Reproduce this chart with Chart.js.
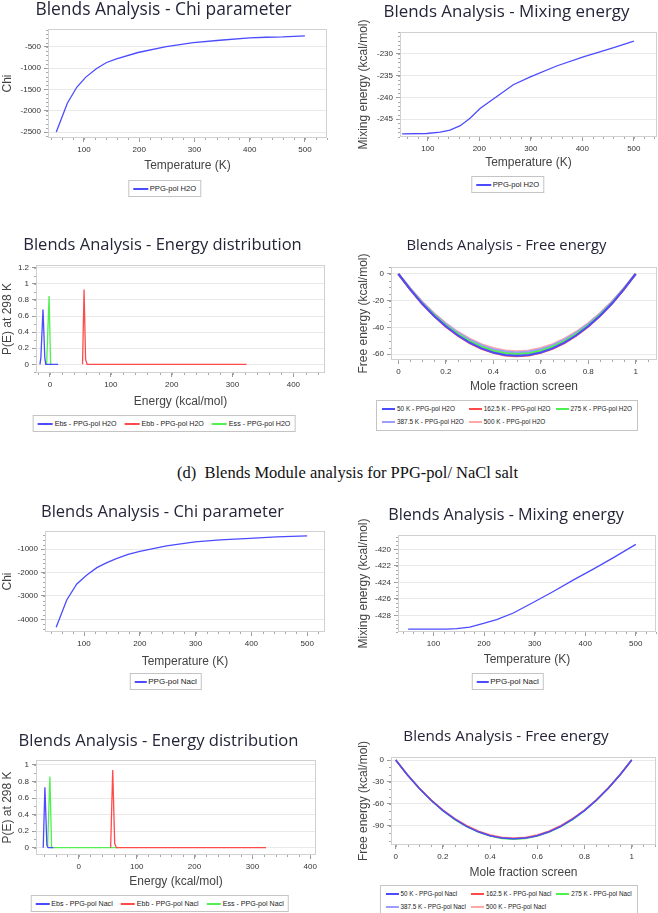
<!DOCTYPE html>
<html><head><meta charset="utf-8">
<script src="https://cdn.jsdelivr.net/npm/chart.js@4.4.0/dist/chart.umd.min.js"></script>
<style>
html,body{margin:0;padding:0;background:#fff;}
#wrap{position:relative;width:658px;height:913px;overflow:hidden;background:#fff;}
canvas{position:absolute;}
.lg{position:absolute;border:1px solid #c4c4c4;background:#fff;padding:2px 4px;font-family:"Liberation Sans",Arial,sans-serif;color:#222;white-space:nowrap;line-height:10px;transform:translateX(-50%);}
.lg .it{display:inline-flex;align-items:center;margin-right:8px;}
.lg .it:last-child{margin-right:0}
.lg .sw{display:inline-block;height:2px;margin-right:2px;}
.lg.grid{display:grid;grid-template-columns:auto auto auto;column-gap:5px;row-gap:3px;padding:3px 5px;}
.lg.grid .it{margin-right:0}
.cap{position:absolute;font:16.5px "Liberation Serif","Times New Roman",serif;color:#111;white-space:pre;line-height:18px;}
</style></head><body><div id="wrap"></div><script>
// ---------------- DATA ----------------
// (a) Chi parameter, PPG-pol / H2O
const chiH2O_T   = [50, 70, 87, 103, 123, 141, 159, 198, 249, 298, 346, 400, 430, 460, 500];
const chiH2O     = [-2500, -1823, -1449, -1216, -1006, -866, -780, -632, -492, -399, -344, -290, -274, -266, -243];
// (b) Mixing energy, PPG-pol / H2O
const mixH2O_T   = [50, 98, 124, 143, 163, 182, 202, 234, 266, 299, 350, 402, 461, 500];
const mixH2O     = [-248.4, -248.3, -248.0, -247.5, -246.5, -244.8, -242.5, -239.8, -237.1, -235.3, -232.8, -230.7, -228.6, -227.1];
// (c) Energy distribution, PPG-pol / H2O
const ebsH2O_E   = [-16.5, -15, -11.5, -8.5, -7, 13.5];
const ebsH2O_P   = [0, 0.08, 0.68, 0.08, 0, 0];
const ebbH2O_E   = [53.5, 56, 58.5, 61, 323];
const ebbH2O_P   = [0, 0.93, 0.06, 0, 0];
const essH2O_E   = [-5.5, -1.5, 1, 4];
const essH2O_P   = [0, 0.85, 0, 0];
// (d) Free energy, PPG-pol / H2O
const moleFrac   = [0, 0.05, 0.1, 0.15, 0.2, 0.25, 0.3, 0.35, 0.4, 0.45, 0.5, 0.55, 0.6, 0.65, 0.7, 0.75, 0.8, 0.85, 0.9, 0.95, 1];
const fe50H2O    = [0, -11.6, -22.1, -31.2, -39.1, -45.8, -51.3, -55.6, -58.7, -60.5, -61.1, -60.5, -58.7, -55.6, -51.3, -45.8, -39.1, -31.2, -22.1, -11.6, 0];
const fe162H2O   = [0, -11.7, -22.3, -31.5, -39.4, -46.1, -51.6, -55.9, -59.0, -60.9, -61.5, -60.9, -59.0, -55.9, -51.6, -46.1, -39.4, -31.5, -22.3, -11.7, 0];
const fe275H2O   = [0, -11.3, -21.6, -30.5, -38.3, -44.8, -50.2, -54.4, -57.4, -59.2, -59.8, -59.2, -57.4, -54.4, -50.2, -44.8, -38.3, -30.5, -21.6, -11.3, 0];
const fe387H2O   = [0, -11.1, -21.2, -30.0, -37.6, -44.0, -49.3, -53.4, -56.4, -58.2, -58.8, -58.2, -56.4, -53.4, -49.3, -44.0, -37.6, -30.0, -21.2, -11.1, 0];
const fe500H2O   = [0, -10.9, -20.9, -29.5, -37.0, -43.3, -48.5, -52.6, -55.5, -57.3, -57.9, -57.3, -55.5, -52.6, -48.5, -43.3, -37.0, -29.5, -20.9, -10.9, 0];
// (e) Chi parameter, PPG-pol / NaCl
const chiNaCl_T  = [50, 69, 87, 105, 123, 141, 158, 179, 200, 248, 299, 344, 397, 445, 500];
const chiNaCl    = [-4343, -3171, -2486, -2100, -1786, -1571, -1400, -1214, -1086, -857, -686, -600, -529, -471, -429];
// (f) Mixing energy, PPG-pol / NaCl
const mixNaCl_T  = [50, 93, 126, 146, 172, 199, 225, 258, 298, 337, 377, 416, 456, 500];
const mixNaCl    = [-429.66, -429.66, -429.66, -429.6, -429.4, -428.97, -428.5, -427.7, -426.4, -425.1, -423.7, -422.4, -421.0, -419.4];
// (g) Energy distribution, PPG-pol / NaCl
const ebsNaCl_E  = [-61.5, -58.6, -55.2, -53, -44];
const ebsNaCl_P  = [0, 0.73, 0.03, 0, 0];
const ebbNaCl_E  = [55, 58.6, 62, 65, 323.5];
const ebbNaCl_P  = [0, 0.94, 0.05, 0, 0];
const essNaCl_E  = [-54, -50, -47, 68];
const essNaCl_P  = [0, 0.86, 0, 0];
// (h) Free energy, PPG-pol / NaCl
const fe50NaCl   = [0, -20.5, -38.8, -55.0, -69.0, -80.8, -90.5, -98.0, -103.4, -106.6, -107.6, -106.6, -103.4, -98.0, -90.5, -80.8, -69.0, -55.0, -38.8, -20.5, 0];
const fe162NaCl  = [0, -20.4, -38.6, -54.7, -68.6, -80.4, -90.0, -97.5, -102.9, -106.1, -107.1, -106.1, -102.9, -97.5, -90.0, -80.4, -68.6, -54.7, -38.6, -20.4, 0];
const fe275NaCl  = [0, -20.6, -39.0, -55.2, -69.3, -81.2, -90.9, -98.5, -103.9, -107.1, -108.2, -107.1, -103.9, -98.5, -90.9, -81.2, -69.3, -55.2, -39.0, -20.6, 0];
const fe387NaCl  = [0, -20.5, -38.7, -54.9, -68.9, -80.6, -90.3, -97.8, -103.2, -106.4, -107.4, -106.4, -103.2, -97.8, -90.3, -80.6, -68.9, -54.9, -38.7, -20.5, 0];
const fe500NaCl  = [0, -20.2, -38.3, -54.2, -68.1, -79.8, -89.3, -96.8, -102.1, -105.3, -106.3, -105.3, -102.1, -96.8, -89.3, -79.8, -68.1, -54.2, -38.3, -20.2, 0];
// tick labels
const tempTicks     = [100, 200, 300, 400, 500];
const energyTicks   = [0, 100, 200, 300, 400];
const fracTicks     = [0, 0.2, 0.4, 0.6, 0.8, 1];
const chiH2OTicks   = [-2500, -2000, -1500, -1000, -500];
const mixH2OTicks   = [-245, -240, -235, -230];
const pH2OTicks     = [0, 0.2, 0.4, 0.6, 0.8, 1, 1.2];
const feH2OTicks    = [-60, -40, -20, 0];
const chiNaClTicks  = [-4000, -3000, -2000, -1000];
const mixNaClTicks  = [-428, -426, -424, -422, -420];
const pNaClTicks    = [0, 0.2, 0.4, 0.6, 0.8, 1];
const feNaClTicks   = [-90, -60, -30, 0];
const captionText   = '(d)  Blends Module analysis for PPG-pol/ NaCl salt';

// ---------------- STYLE ----------------
const TITLE_FAMILY = '"Open Sans", "Noto Sans", sans-serif';
const AXIS_FONT  = {family:'"Liberation Sans", Arial, sans-serif', size:12};
const TICK_FONT  = {family:'"Liberation Sans", Arial, sans-serif', size:8};
const BLUE='#4b4bff', RED='#ff4b4b', GREEN='#4ff04f', LAV='#9d9dff', PINK='#ffa8a8';

function pts(xs, ys){ return xs.map((x,i)=>({x:x, y:ys[i]})); }
function ds(label, xs, ys, color, w){ return {label:label, data:pts(xs,ys), borderColor:color, backgroundColor:color, borderWidth:w||1.3, pointRadius:0, tension:0, fill:false}; }

const framePlugin = {
  id:'frame',
  beforeDatasetsDraw(chart){
    const {ctx, chartArea:a} = chart;
    ctx.save(); ctx.strokeStyle='#d0d0d0'; ctx.lineWidth=1;
    ctx.strokeRect(Math.round(a.left)+0.5, Math.round(a.top)+0.5, Math.round(a.width)-1, Math.round(a.height)-1);
    ctx.restore();
  },
  afterDraw(chart, args, opts){
    const {ctx, chartArea:a, scales} = chart;
    ctx.save(); ctx.strokeStyle='#a8a8a8'; ctx.lineWidth=1;
    const sx=scales.x, sy=scales.y;
    if (opts.mx){
      for (let v=Math.ceil(sx.min/opts.mx)*opts.mx; v<=sx.max; v+=opts.mx){
        const p=Math.round(sx.getPixelForValue(v))+0.5;
        ctx.beginPath(); ctx.moveTo(p, a.bottom); ctx.lineTo(p, a.bottom+2); ctx.stroke();
      }
    }
    if (opts.my){
      for (let v=Math.ceil(sy.min/opts.my)*opts.my; v<=sy.max; v+=opts.my){
        const p=Math.round(sy.getPixelForValue(v))+0.5;
        ctx.beginPath(); ctx.moveTo(a.left-2, p); ctx.lineTo(a.left, p); ctx.stroke();
      }
    }
    ctx.restore();
  }
};

function makeChart(c){
  const wrap=document.getElementById('wrap');
  const cv=document.createElement('canvas');
  cv.width=c.box.w; cv.height=c.box.h;
  cv.style.left=c.box.x+'px'; cv.style.top=c.box.y+'px';
  cv.style.width=c.box.w+'px'; cv.style.height=c.box.h+'px';
  wrap.appendChild(cv);
  const tfs=c.titleSize||17;
  const tlh=tfs*1.2;
  const tPadTop=Math.max(0, c.titleCy - c.box.y - tlh/2);
  const tPadBot=(c.plot.t - c.box.y) - tlh - tPadTop;
  const alh=AXIS_FONT.size*1.2;
  const xh=c.xTitleCy - c.plot.b + alh/2;
  const yw=c.plot.l - c.box.x;
  const padR=c.box.w - (c.plot.r - c.box.x);
  const padB=c.box.h - (c.plot.b - c.box.y) - xh;
  const yTitlePad=Math.max(0, c.yTitleCx - c.box.x - alh/2);
  const fmt = v => String(v);
  return new Chart(cv, {
    type:'line',
    data:{datasets:c.datasets},
    plugins:[framePlugin],
    options:{
      responsive:false, animation:false, devicePixelRatio:1,
      layout:{padding:{left:0, top:0, right:padR, bottom:padB}},
      plugins:{
        legend:{display:false}, tooltip:{enabled:false},
        title:{display:true, text:c.title, color:'#25253a', font:{family:TITLE_FAMILY, size:tfs, weight:'normal', lineHeight:1.2}, padding:{top:tPadTop, bottom:tPadBot}},
        frame:{mx:c.mx, my:c.my}
      },
      scales:{
        x:{type:'linear', min:c.xMin, max:c.xMax,
           afterBuildTicks:s=>{ s.ticks=c.xTicks.map(v=>({value:v})); },
           afterFit:s=>{ s.height=xh; },
           ticks:{font:TICK_FONT, color:'#333', padding:3, autoSkip:false, maxRotation:0, callback:fmt},
           grid:{display:true, drawOnChartArea:false, drawTicks:true, tickLength:4, tickColor:'#999'},
           border:{display:false},
           title:{display:true, text:c.xTitle, color:'#444', font:AXIS_FONT, padding:{top:0, bottom:0}}
        },
        y:{type:'linear', min:c.yMin, max:c.yMax,
           afterBuildTicks:s=>{ s.ticks=c.yTicks.map(v=>({value:v})); },
           afterFit:s=>{ s.width=yw; },
           ticks:{font:TICK_FONT, color:'#333', padding:3, autoSkip:false, callback:fmt},
           grid:{display:true, drawOnChartArea:true, color:'#e9e9e9', drawTicks:true, tickLength:4, tickColor:'#999'},
           border:{display:false},
           title:{display:true, text:c.yTitle, color:'#444', font:AXIS_FONT, padding:{top:yTitlePad, bottom:0}}
        }
      }
    }
  });
}

function makeLegend(chart, cx, top, fs, sw, grid){
  const wrap=document.getElementById('wrap');
  const d=document.createElement('div');
  d.className='lg'+(grid?' grid':'');
  d.style.left=cx+'px'; d.style.top=top+'px'; d.style.fontSize=fs+'px';
  chart.data.datasets.forEach(s=>{
    const it=document.createElement('span'); it.className='it';
    const w=document.createElement('span'); w.className='sw'; w.style.background=s.borderColor; w.style.width=sw+'px';
    const tx=document.createElement('span'); tx.textContent=s.label;
    it.appendChild(w); it.appendChild(tx); d.appendChild(it);
  });
  wrap.appendChild(d);
}

// ---------------- PANELS ----------------
const c1 = makeChart({box:{x:0,y:0,w:330,h:180}, plot:{l:48,t:29,r:327,b:138}, titleCy:10, titleSize:17.4, xTitleCy:166, yTitleCx:7,
  title:'Blends Analysis - Chi parameter', xTitle:'Temperature (K)', yTitle:'Chi',
  xMin:35, xMax:540, yMin:-2640, yMax:-80, xTicks:tempTicks, yTicks:chiH2OTicks, mx:20, my:100,
  datasets:[ds('PPG-pol H2O', chiH2O_T, chiH2O, BLUE)]});
makeLegend(c1, 164.5, 180, 7.6, 15);

const c2 = makeChart({box:{x:356,y:0,w:302,h:180}, plot:{l:400,t:32,r:657,b:137}, titleCy:12, titleSize:16.9, xTitleCy:163, yTitleCx:363,
  title:'Blends Analysis - Mixing energy', xTitle:'Temperature (K)', yTitle:'Mixing energy (kcal/mol)',
  xMin:46, xMax:545, yMin:-249.1, yMax:-225, xTicks:tempTicks, yTicks:mixH2OTicks, mx:20, my:1,
  datasets:[ds('PPG-pol H2O', mixH2O_T, mixH2O, BLUE)]});
makeLegend(c2, 507.5, 176, 7.6, 15);

const c3 = makeChart({box:{x:0,y:225,w:330,h:190}, plot:{l:36,t:265,r:325,b:373}, titleCy:245, titleSize:16.5, xTitleCy:402, yTitleCx:7,
  title:'Blends Analysis - Energy distribution', xTitle:'Energy (kcal/mol)', yTitle:'P(E) at 298 K',
  xMin:-23, xMax:452, yMin:-0.108, yMax:1.234, xTicks:energyTicks, yTicks:pH2OTicks, mx:20, my:0.1,
  datasets:[ds('Ebs - PPG-pol H2O', ebsH2O_E, ebsH2O_P, BLUE), ds('Ebb - PPG-pol H2O', ebbH2O_E, ebbH2O_P, RED), ds('Ess - PPG-pol H2O', essH2O_E, essH2O_P, GREEN)]});
makeLegend(c3, 164, 415, 7.1, 15);

const c4 = makeChart({box:{x:356,y:225,w:302,h:172}, plot:{l:391,t:267,r:657,b:360}, titleCy:246, titleSize:14.8, xTitleCy:387, yTitleCx:363,
  title:'Blends Analysis - Free energy', xTitle:'Mole fraction screen', yTitle:'Free energy (kcal/mol)',
  xMin:-0.031, xMax:1.09, yMin:-64.3, yMax:5.2, xTicks:fracTicks, yTicks:feH2OTicks, mx:0.05, my:5,
  datasets:[ds('50 K - PPG-pol H2O', moleFrac, fe50H2O, BLUE, 2), ds('162.5 K - PPG-pol H2O', moleFrac, fe162H2O, RED, 2), ds('275 K - PPG-pol H2O', moleFrac, fe275H2O, GREEN, 2), ds('387.5 K - PPG-pol H2O', moleFrac, fe387H2O, LAV, 2.5), ds('500 K - PPG-pol H2O', moleFrac, fe500H2O, PINK, 2.5)]});
makeLegend(c4, 507, 400, 6.4, 13, true);

const cap=document.createElement('div'); cap.className='cap'; cap.textContent=captionText;
cap.style.left='177px'; cap.style.top='464px'; document.getElementById('wrap').appendChild(cap);

const c5 = makeChart({box:{x:0,y:495,w:330,h:180}, plot:{l:45,t:531,r:325,b:632}, titleCy:512, titleSize:16.5, xTitleCy:662, yTitleCx:7,
  title:'Blends Analysis - Chi parameter', xTitle:'Temperature (K)', yTitle:'Chi',
  xMin:30, xMax:532, yMin:-4544, yMax:-216, xTicks:tempTicks, yTicks:chiNaClTicks, mx:20, my:200,
  datasets:[ds('PPG-pol Nacl', chiNaCl_T, chiNaCl, BLUE)]});
makeLegend(c5, 165.5, 673, 8, 12);

const c6 = makeChart({box:{x:356,y:495,w:302,h:180}, plot:{l:398,t:535,r:656,b:632}, titleCy:515, titleSize:16.2, xTitleCy:660, yTitleCx:363,
  title:'Blends Analysis - Mixing energy', xTitle:'Temperature (K)', yTitle:'Mixing energy (kcal/mol)',
  xMin:30, xMax:540, yMin:-430.0, yMax:-418.27, xTicks:tempTicks, yTicks:mixNaClTicks, mx:20, my:0.5,
  datasets:[ds('PPG-pol Nacl', mixNaCl_T, mixNaCl, BLUE)]});
makeLegend(c6, 507.5, 673, 8, 12);

const c7 = makeChart({box:{x:0,y:725,w:320,h:170}, plot:{l:36,t:760,r:317,b:855}, titleCy:741, titleSize:16.6, xTitleCy:882, yTitleCx:7,
  title:'Blends Analysis - Energy distribution', xTitle:'Energy (kcal/mol)', yTitle:'P(E) at 298 K',
  xMin:-74, xMax:410, yMin:-0.088, yMax:1.06, xTicks:energyTicks, yTicks:pNaClTicks, mx:20, my:0.1,
  datasets:[ds('Ebs - PPG-pol Nacl', ebsNaCl_E, ebsNaCl_P, BLUE), ds('Ebb - PPG-pol Nacl', ebbNaCl_E, ebbNaCl_P, RED), ds('Ess - PPG-pol Nacl', essNaCl_E, essNaCl_P, GREEN)]});
makeLegend(c7, 159.5, 895, 7.1, 14);

const c8 = makeChart({box:{x:356,y:725,w:302,h:160}, plot:{l:391,t:757,r:656,b:845}, titleCy:737, titleSize:15.2, xTitleCy:873, yTitleCx:363,
  title:'Blends Analysis - Free energy', xTitle:'Mole fraction screen', yTitle:'Free energy (kcal/mol)',
  xMin:-0.02, xMax:1.103, yMin:-116, yMax:4.1, xTicks:fracTicks, yTicks:feNaClTicks, mx:0.05, my:10,
  datasets:[ds('50 K - PPG-pol Nacl', moleFrac, fe50NaCl, BLUE, 1.5), ds('162.5 K - PPG-pol Nacl', moleFrac, fe162NaCl, RED, 1.5), ds('275 K - PPG-pol Nacl', moleFrac, fe275NaCl, GREEN, 1.5), ds('387.5 K - PPG-pol Nacl', moleFrac, fe387NaCl, LAV, 1.5), ds('500 K - PPG-pol Nacl', moleFrac, fe500NaCl, PINK, 1.5)]});
makeLegend(c8, 508.5, 885, 6.3, 13, true);
</script></body></html>
